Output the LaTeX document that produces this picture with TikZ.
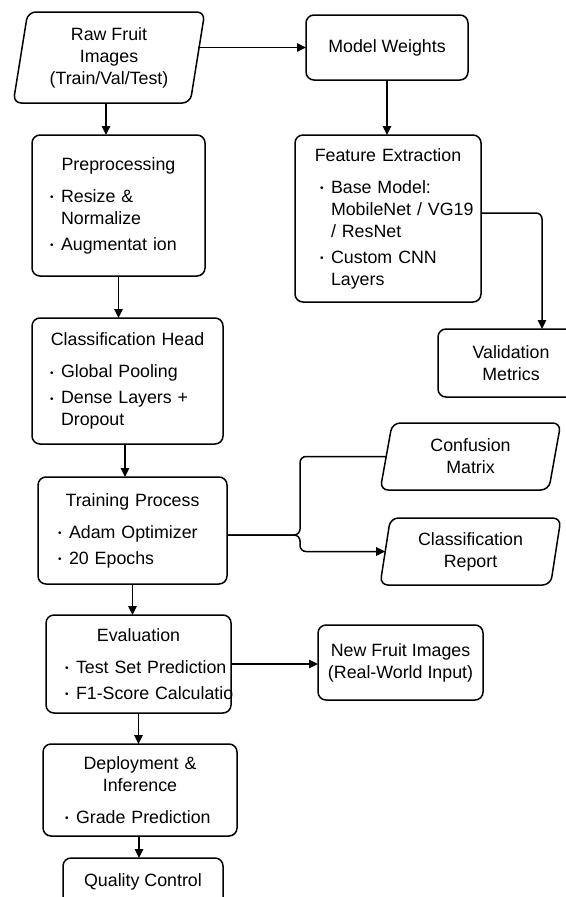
\documentclass[tikz,border=0pt]{standalone}
\usepackage{fontspec}
\setmainfont{Liberation Sans}
\usetikzlibrary{shapes.geometric, arrows.meta, positioning}

% bullet and line helpers for the boxes
\newcommand{\bul}{\makebox[11pt][l]{\raisebox{1.5pt}{\fontsize{10}{10}\selectfont\textbullet}}}
\newcommand{\tline}[1]{\noindent\makebox[\hsize][c]{#1}\par}
\newcommand{\btitle}[1]{\tline{#1}\vspace{6pt}}
\newcommand{\bpt}[1]{\par\vspace{4pt}\noindent\makebox[\hsize][l]{\bul#1}\par}
\newcommand{\bcont}[1]{\noindent\makebox[\hsize][l]{\hspace*{11pt}#1}\par}

\begin{document}
\begin{tikzpicture}[
    x=1pt, y=-1pt,
    block/.style={rectangle, draw, line width=1.5pt, rounded corners=8pt, inner sep=0pt, outer sep=0pt, font=\fontsize{17.8}{22}\selectfont},
    data/.style={trapezium, trapezium left angle=80, trapezium right angle=100, trapezium stretches=true, draw, line width=1.5pt, rounded corners=8pt, inner sep=0pt, outer sep=0pt, align=center, font=\fontsize{17.8}{22}\selectfont},
    flow/.style={draw, line width=1.5pt, -{Triangle[length=9pt, width=8.5pt]}},
    link/.style={draw, line width=1.5pt}
]
    \useasboundingbox (0,0) rectangle (565,897);

    % Inputs
    \node (raw) [data, minimum width=192pt, minimum height=91pt] at (109,57.5) {Raw Fruit\\Images\\(Train/Val/Test)};
    \node (mw) [block, minimum width=162pt, minimum height=65pt] at (387,47.5) {Model Weights};

    % Main pipeline
    \node (prep) [block, below=32pt of raw, xshift=9.5pt, minimum width=173pt, minimum height=141pt, text width=137pt] {\btitle{Preprocessing}\bpt{Resize \&}\bcont{Normalize}\bpt{Augmentat ion}};
    \node (ch) [block, below=42pt of prep, xshift=9pt, minimum width=191pt, minimum height=126pt, text width=155pt] {\btitle{Classification Head}\bpt{Global Pooling}\bpt{Dense Layers +}\bcont{Dropout}};
    \node (tp) [block, below=33pt of ch, xshift=5pt, minimum width=189pt, minimum height=107pt, text width=149pt] {\btitle{Training Process}\bpt{Adam Optimizer}\bpt{20 Epochs}};
    \node (eval) [block, below=31pt of tp, xshift=6pt, minimum width=185pt, minimum height=98pt, text width=147pt] {\btitle{Evaluation}\bpt{Test Set Prediction}\bpt{F1-Score Calculatio}};
    \node (deploy) [block, below=31pt of eval, xshift=1.5pt, minimum width=194pt, minimum height=92pt, text width=150pt] {\tline{Deployment \&}\btitle{Inference}\bpt{Grade Prediction}};
    \node (qc) [block, below=22pt of deploy, xshift=3pt, minimum width=160pt, minimum height=47pt] {Quality Control};

    % Right column
    \node (fe) [block, below=55pt of mw, xshift=1pt, minimum width=186pt, minimum height=167pt, text width=136pt] {\btitle{Feature Extraction}\bpt{Base Model:}\bcont{MobileNet / VG19}\bcont{/ ResNet}\bpt{Custom CNN}\bcont{Layers}};
    \node (val) [block, align=center, minimum width=146pt, minimum height=68pt] at (511,363) {Validation\\Metrics};
    \node (cm) [data, minimum width=181pt, minimum height=67pt] at (470.5,456.5) {Confusion\\Matrix};
    \node (cr) [data, below=28pt of cm, minimum width=181pt, minimum height=67pt] {Classification\\Report};
    \node (nf) [block, right=87pt of eval, yshift=1.5pt, align=center, minimum width=165pt, minimum height=75pt] {New Fruit Images\\(Real-World Input)};

    % Connectors
    \draw [flow] (raw.east |- mw.west) -- (mw.west);
    \draw [flow] ([xshift=-3pt]raw.south) -- ([xshift=-3pt]raw.south |- prep.north);
    \draw [flow] (prep.south) -- (prep.south |- ch.north);
    \draw [flow] ([xshift=-2.5pt]ch.south) -- ([xshift=-2.5pt]ch.south |- tp.north);
    \draw [flow] (tp.south) -- (tp.south |- eval.north);
    \draw [flow] (eval.south) -- (eval.south |- deploy.north);
    \draw [flow] ([xshift=-1pt]deploy.south) -- ([xshift=-1pt]deploy.south |- qc.north);

    \draw [flow] (mw.south) -- (mw.south |- fe.north);
    \draw [flow, rounded corners=6pt] ([yshift=5.5pt]fe.east) -| ([xshift=31pt]val.north);

    \coordinate (split) at ([xshift=73pt, yshift=-4.5pt]tp.east);
    \draw [link, rounded corners=6pt] ([yshift=-4.5pt]tp.east) -| (split |- cm.west) -- (cm.west);
    \draw [flow, rounded corners=6pt] ([yshift=-4.5pt]tp.east) -| (split |- cr.west) -- (cr.west);

    \draw [flow] (eval.east) -- (eval.east -| nf.west);

\end{tikzpicture}
\end{document}
